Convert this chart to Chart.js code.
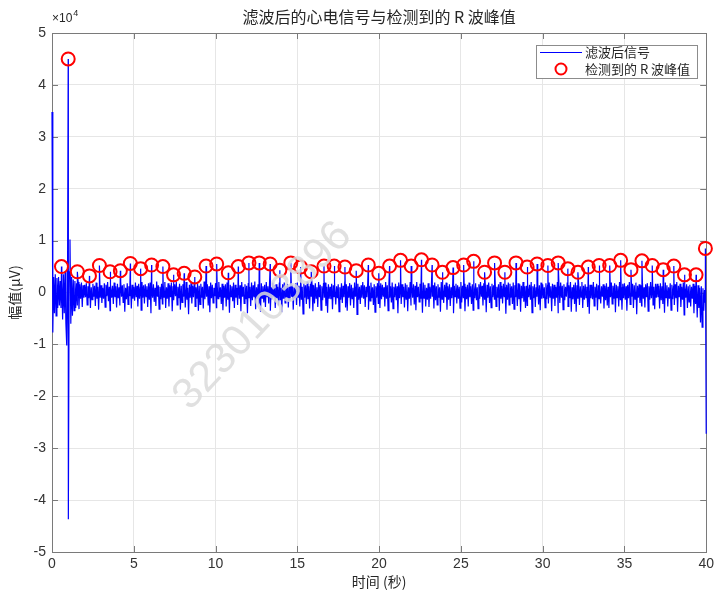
<!DOCTYPE html>
<html>
<head>
<meta charset="utf-8">
<script src="https://cdn.jsdelivr.net/npm/chart.js@4"></script>
<style>
  html, body { margin: 0; padding: 0; background: #fff; }
  canvas { display: block; }
</style>
</head>
<body>
<canvas id="ecgChart" width="718" height="592"></canvas>
<script>
// 滤波后信号, 单位 ×10^4 μV, 每 0.05 秒一个点 (每行 1 秒)
const sampleStep = 0.05;
const signalVals = [
  3.48,-0.77,0.30,-0.40,0.35,-0.45,0.28,-0.30,0.30,-0.25,0.22,-0.30,0.20,-0.52,0.35,-0.40,0.40,-0.60,-1.02,0.20,
  -4.37,0.40,1.02,-0.60,0.30,-0.45,0.25,-0.35,0.22,-0.30,0.18,-0.25,0.20,-0.32,0.16,-0.12,0.19,-0.28,0.14,-0.10,
  0.15,-0.09,0.18,-0.24,0.12,-0.11,0.20,-0.30,0.10,-0.14,0.17,-0.08,0.13,-0.26,0.19,-0.12,0.11,-0.33,0.16,-0.10,
  0.14,-0.20,0.09,-0.12,0.18,-0.28,0.15,-0.07,0.20,-0.17,0.11,-0.35,0.16,-0.10,0.13,-0.22,0.19,-0.09,0.12,-0.29,
  0.17,-0.11,0.10,-0.25,0.21,-0.08,0.14,-0.19,0.16,-0.37,0.09,-0.13,0.18,-0.23,0.12,-0.07,0.20,-0.31,0.15,-0.12,
  0.11,-0.16,0.19,-0.09,0.13,-0.27,0.17,-0.12,0.10,-0.34,0.20,-0.10,0.14,-0.21,0.16,-0.08,0.12,-0.28,0.18,-0.14,
  0.19,-0.40,0.12,-0.10,0.16,-0.18,0.09,-0.26,0.21,-0.08,0.14,-0.32,0.11,-0.13,0.17,-0.22,0.15,-0.09,0.20,-0.30,
  0.10,-0.12,0.18,-0.27,0.14,-0.09,0.19,-0.36,0.12,-0.15,0.16,-0.07,0.20,-0.24,0.11,-0.11,0.17,-0.33,0.13,-0.19,
  0.16,-0.08,0.12,-0.29,0.20,-0.14,0.09,-0.42,0.15,-0.10,0.18,-0.21,0.13,-0.09,0.19,-0.27,0.10,-0.12,0.17,-0.35,
  0.13,-0.23,0.17,-0.10,0.11,-0.31,0.21,-0.13,0.14,-0.08,0.16,-0.25,0.12,-0.38,0.19,-0.11,0.15,-0.20,0.09,-0.07,
  0.18,-0.29,0.14,-0.12,0.20,-0.09,0.10,-0.22,0.17,-0.34,0.13,-0.10,0.16,-0.27,0.19,-0.14,0.11,-0.39,0.15,-0.08,
  0.12,-0.17,0.19,-0.30,0.15,-0.10,0.09,-0.24,0.18,-0.12,0.14,-0.36,0.20,-0.08,0.11,-0.21,0.16,-0.13,0.13,-0.40,
  0.17,-0.10,0.11,-0.26,0.19,-0.15,0.14,-0.09,0.21,-0.32,0.10,-0.12,0.16,-0.23,0.13,-0.37,0.18,-0.11,0.12,-0.19,
  0.15,-0.28,0.20,-0.08,0.12,-0.21,0.17,-0.35,0.10,-0.13,0.19,-0.09,0.14,-0.30,0.16,-0.11,0.11,-0.25,0.18,-0.14,
  0.09,-0.38,0.16,-0.12,0.19,-0.20,0.13,-0.10,0.17,-0.29,0.12,-0.16,0.20,-0.08,0.15,-0.33,0.10,-0.11,0.18,-0.24,
  0.19,-0.09,0.13,-0.27,0.16,-0.14,0.11,-0.41,0.18,-0.10,0.14,-0.22,0.21,-0.13,0.12,-0.31,0.17,-0.08,0.15,-0.36,
  0.14,-0.21,0.18,-0.11,0.10,-0.28,0.20,-0.09,0.15,-0.34,0.12,-0.15,0.17,-0.10,0.19,-0.26,0.11,-0.39,0.16,-0.12,
  0.11,-0.13,0.17,-0.32,0.14,-0.08,0.19,-0.23,0.12,-0.11,0.16,-0.37,0.10,-0.14,0.18,-0.20,0.13,-0.09,0.20,-0.29,
  0.16,-0.35,0.12,-0.10,0.18,-0.25,0.15,-0.12,0.09,-0.30,0.19,-0.08,0.13,-0.42,0.17,-0.14,0.11,-0.22,0.14,-0.10,
  0.20,-0.12,0.14,-0.28,0.11,-0.09,0.17,-0.33,0.13,-0.16,0.19,-0.11,0.10,-0.24,0.16,-0.38,0.12,-0.10,0.18,-0.21,
  0.13,-0.30,0.18,-0.13,0.15,-0.08,0.10,-0.27,0.20,-0.12,0.14,-0.35,0.17,-0.10,0.12,-0.19,0.19,-0.31,0.11,-0.09,
  0.17,-0.15,0.12,-0.40,0.19,-0.11,0.14,-0.22,0.16,-0.09,0.11,-0.29,0.18,-0.13,0.15,-0.36,0.10,-0.12,0.20,-0.25,
  0.12,-0.10,0.16,-0.23,0.13,-0.34,0.20,-0.09,0.11,-0.18,0.17,-0.12,0.14,-0.39,0.19,-0.11,0.15,-0.27,0.09,-0.14,
  0.18,-0.28,0.11,-0.12,0.17,-0.08,0.14,-0.31,0.19,-0.15,0.12,-0.24,0.16,-0.10,0.10,-0.37,0.20,-0.13,0.13,-0.20,
  0.15,-0.09,0.19,-0.33,0.12,-0.14,0.16,-0.26,0.10,-0.11,0.18,-0.40,0.13,-0.08,0.17,-0.21,0.14,-0.12,0.11,-0.30,
  0.20,-0.19,0.13,-0.10,0.17,-0.36,0.11,-0.13,0.15,-0.27,0.19,-0.09,0.12,-0.22,0.16,-0.34,0.14,-0.11,0.18,-0.15,
  0.10,-0.31,0.16,-0.12,0.20,-0.08,0.13,-0.25,0.18,-0.14,0.11,-0.38,0.15,-0.10,0.19,-0.20,0.12,-0.29,0.17,-0.09,
  0.14,-0.13,0.18,-0.27,0.11,-0.10,0.16,-0.35,0.20,-0.12,0.13,-0.21,0.17,-0.08,0.10,-0.41,0.15,-0.14,0.19,-0.24,
  0.17,-0.10,0.12,-0.22,0.19,-0.32,0.14,-0.09,0.11,-0.26,0.18,-0.13,0.16,-0.37,0.13,-0.11,0.20,-0.18,0.12,-0.30,
  0.13,-0.25,0.17,-0.09,0.15,-0.14,0.20,-0.39,0.12,-0.11,0.16,-0.28,0.10,-0.08,0.18,-0.23,0.14,-0.34,0.19,-0.12,
  0.16,-0.11,0.10,-0.29,0.18,-0.13,0.14,-0.21,0.19,-0.09,0.12,-0.36,0.17,-0.12,0.15,-0.26,0.11,-0.10,0.20,-0.40,
  0.12,-0.20,0.19,-0.10,0.13,-0.33,0.16,-0.15,0.11,-0.08,0.18,-0.27,0.14,-0.11,0.20,-0.37,0.10,-0.13,0.15,-0.22,
  0.19,-0.37,0.14,-0.12,0.17,-0.24,0.12,-0.09,0.20,-0.30,0.13,-0.14,0.16,-0.10,0.11,-0.28,0.18,-0.41,0.15,-0.11,
  0.15,-0.13,0.20,-0.26,0.11,-0.10,0.17,-0.34,0.14,-0.12,0.19,-0.21,0.12,-0.08,0.16,-0.31,0.13,-0.15,0.18,-0.25,
  0.11,-0.30,0.16,-0.09,0.19,-0.22,0.13,-0.12,0.18,-0.38,0.15,-0.10,0.12,-0.27,0.20,-0.14,0.10,-0.33,0.17,-0.11,
  0.18,-0.14,0.12,-0.35,0.15,-0.11,0.20,-0.23,0.11,-0.08,0.17,-0.30,0.14,-0.13,0.19,-0.42,0.13,-0.10,0.16,-0.20,
  0.14,-0.26,0.19,-0.12,0.10,-0.29,0.16,-0.09,0.18,-0.36,0.12,-0.14,0.20,-0.11,0.15,-0.24,0.11,-0.32,0.17,-0.10,
  0.17,-0.09,0.13,-0.31,0.18,-0.15,0.12,-0.22,0.16,-0.39,0.19,-0.10,0.14,-0.27,0.10,-0.12,0.18,-0.34,0.15,-0.13,
  0.12,-0.24,0.16,-0.11,0.20,-0.37,0.13,-0.09,0.17,-0.28,0.11,-0.14,0.19,-0.43,0.14,-0.10,0.16,-0.30,0.12,-0.18,
  0.15,-0.27,0.11,-0.12,0.17,-0.40,0.13,-0.22,0.10,-0.48,0.14,-0.30,0.09,-0.58,0.12,-0.67,0.08,-0.35,0.05,-0.20,
  -2.72
];

// 检测到的 R 波峰值 (秒, ×10^4 μV)
const peakTimes = [
  0.58, 0.99, 1.55, 2.29, 2.90, 3.55, 4.18, 4.79, 5.42, 6.09,
  6.78, 7.43, 8.08, 8.73, 9.42, 10.07, 10.78, 11.39, 12.04, 12.67,
  13.34, 13.93, 14.60, 15.20, 15.85, 16.63, 17.25, 17.91, 18.60, 19.34,
  19.98, 20.64, 21.31, 21.96, 22.59, 23.24, 23.87, 24.52, 25.17, 25.78,
  26.45, 27.06, 27.69, 28.37, 29.05, 29.66, 30.32, 30.95, 31.54, 32.16,
  32.79, 33.45, 34.10, 34.77, 35.40, 36.07, 36.70, 37.37, 38.02, 38.67,
  39.38, 39.95
];
const peakVals = [
  0.50, 4.50, 0.40, 0.32, 0.52, 0.40, 0.42, 0.56, 0.46, 0.53,
  0.50, 0.34, 0.37, 0.30, 0.51, 0.55, 0.38, 0.50, 0.57, 0.57,
  0.55, 0.43, 0.57, 0.49, 0.40, 0.51, 0.51, 0.49, 0.42, 0.53,
  0.37, 0.51, 0.62, 0.51, 0.63, 0.53, 0.39, 0.48, 0.53, 0.60,
  0.39, 0.57, 0.39, 0.57, 0.49, 0.55, 0.52, 0.57, 0.46, 0.39,
  0.49, 0.52, 0.52, 0.62, 0.44, 0.61, 0.52, 0.44, 0.51, 0.34,
  0.34, 0.85
];

const xMin = 0, xMax = 40, xStep = 5;
const yMin = -5, yMax = 5, yStep = 1;

const titleText = '滤波后的心电信号与检测到的 R 波峰值';
const xTitle = '时间 (秒)';
const yTitle = '幅值(μV)';
const seriesNames = ['滤波后信号', '检测到的 R 波峰值'];
const watermark = '3230103896';

const cjkFont = '"Noto Sans CJK SC", "Noto Sans", sans-serif';
const numFont = '"Liberation Sans", Arial, sans-serif';

// 信号点 + 峰值点合并 (峰值就在信号上)
const peakPoints = peakTimes.map((t, i) => ({ x: t, y: peakVals[i] }));
const signalPoints = signalVals
  .map((v, i) => ({ x: +(i * sampleStep).toFixed(2), y: v }))
  .concat(peakPoints)
  .sort((a, b) => a.x - b.x);

// 边框和内侧刻度 (画在数据下面)
const framePlugin = {
  id: 'frame',
  beforeDatasetsDraw(chart) {
    const ctx = chart.ctx;
    const area = chart.chartArea;
    const xs = chart.scales.x, ys = chart.scales.y;
    ctx.save();
    ctx.strokeStyle = '#7a7a7a';
    ctx.lineWidth = 1;
    ctx.strokeRect(Math.round(area.left) + 0.5, Math.round(area.top) + 0.5,
      Math.round(area.right - area.left), Math.round(area.bottom - area.top));
    ctx.beginPath();
    for (let v = xMin; v <= xMax; v += xStep) {
      const px = Math.round(xs.getPixelForValue(v)) + 0.5;
      ctx.moveTo(px, area.bottom); ctx.lineTo(px, area.bottom - 6);
      ctx.moveTo(px, area.top); ctx.lineTo(px, area.top + 6);
    }
    for (let v = yMin; v <= yMax; v += yStep) {
      const py = Math.round(ys.getPixelForValue(v)) + 0.5;
      ctx.moveTo(area.left, py); ctx.lineTo(area.left + 6, py);
      ctx.moveTo(area.right, py); ctx.lineTo(area.right - 6, py);
    }
    ctx.stroke();
    ctx.restore();
  }
};

// 标题, 图例, 水印
const decorPlugin = {
  id: 'decor',
  afterDraw(chart) {
    const ctx = chart.ctx;
    const area = chart.chartArea;
    ctx.save();

    // 标题
    ctx.fillStyle = '#262626';
    ctx.font = '16px ' + cjkFont;
    ctx.textAlign = 'center';
    ctx.textBaseline = 'middle';
    ctx.fillText(titleText, (area.left + area.right) / 2, 17);

    // ×10^4
    ctx.textAlign = 'left';
    ctx.font = '12px ' + numFont;
    ctx.fillText('×10', area.left, 19);
    const w = ctx.measureText('×10').width;
    ctx.font = '9px ' + numFont;
    ctx.fillText('4', area.left + w + 1, 14);

    // 图例
    const lx = 536, ly = 45, lw = 161, lh = 33;
    ctx.fillStyle = '#fff';
    ctx.fillRect(lx, ly, lw, lh);
    ctx.strokeStyle = '#8c8c8c';
    ctx.lineWidth = 1;
    ctx.strokeRect(lx + 0.5, ly + 0.5, lw, lh);
    ctx.strokeStyle = '#0000ff';
    ctx.beginPath();
    ctx.moveTo(540, 52.5); ctx.lineTo(582, 52.5);
    ctx.stroke();
    ctx.strokeStyle = '#ff0000';
    ctx.lineWidth = 2;
    ctx.beginPath();
    ctx.arc(561, 69, 5.5, 0, Math.PI * 2);
    ctx.stroke();
    ctx.fillStyle = '#262626';
    ctx.font = '13px ' + cjkFont;
    ctx.textBaseline = 'middle';
    ctx.fillText(seriesNames[0], 585, 52);
    ctx.fillText(seriesNames[1], 585, 69);

    // 水印
    ctx.translate(263, 316);
    ctx.rotate(-47 * Math.PI / 180);
    ctx.font = '43px ' + numFont;
    ctx.textAlign = 'center';
    ctx.fillStyle = 'rgba(218, 218, 218, 0.85)';
    ctx.fillText(watermark, 0, 0);

    ctx.restore();
  }
};

new Chart(document.getElementById('ecgChart'), {
  type: 'scatter',
  data: {
    datasets: [{
      label: seriesNames[0],
      data: signalPoints,
      showLine: true,
      borderColor: '#0000ff',
      borderWidth: 1.2,
      pointRadius: 0,
      tension: 0,
      clip: 2,
      order: 2
    }, {
      label: seriesNames[1],
      data: peakPoints,
      showLine: false,
      pointRadius: 6.5,
      pointBorderWidth: 2,
      pointBorderColor: '#ff0000',
      pointBackgroundColor: 'rgba(0,0,0,0)',
      clip: false,
      order: 1
    }]
  },
  options: {
    responsive: false,
    animation: false,
    devicePixelRatio: 1,
    layout: { padding: { top: 33, right: 10, left: 0, bottom: 0 } },
    plugins: {
      legend: { display: false },
      title: { display: false },
      tooltip: { enabled: false }
    },
    scales: {
      x: {
        type: 'linear',
        min: xMin, max: xMax,
        ticks: { stepSize: xStep, color: '#333', font: { family: numFont, size: 14 }, padding: 4, maxRotation: 0 },
        grid: { color: '#e6e6e6', drawTicks: false },
        border: { display: false },
        title: { display: true, text: xTitle, color: '#262626', font: { family: cjkFont, size: 14 }, padding: { top: 0, bottom: 2 } },
        afterFit: s => { s.height = 40; }
      },
      y: {
        type: 'linear',
        min: yMin, max: yMax,
        ticks: { stepSize: yStep, color: '#333', font: { family: numFont, size: 14 }, padding: 6 },
        grid: { color: '#e6e6e6', drawTicks: false },
        border: { display: false },
        title: { display: true, text: yTitle, color: '#262626', font: { family: cjkFont, size: 14 }, padding: { top: 6, bottom: 0 } },
        afterFit: s => { s.width = 52; }
      }
    }
  },
  plugins: [framePlugin, decorPlugin]
});
</script>
</body>
</html>
